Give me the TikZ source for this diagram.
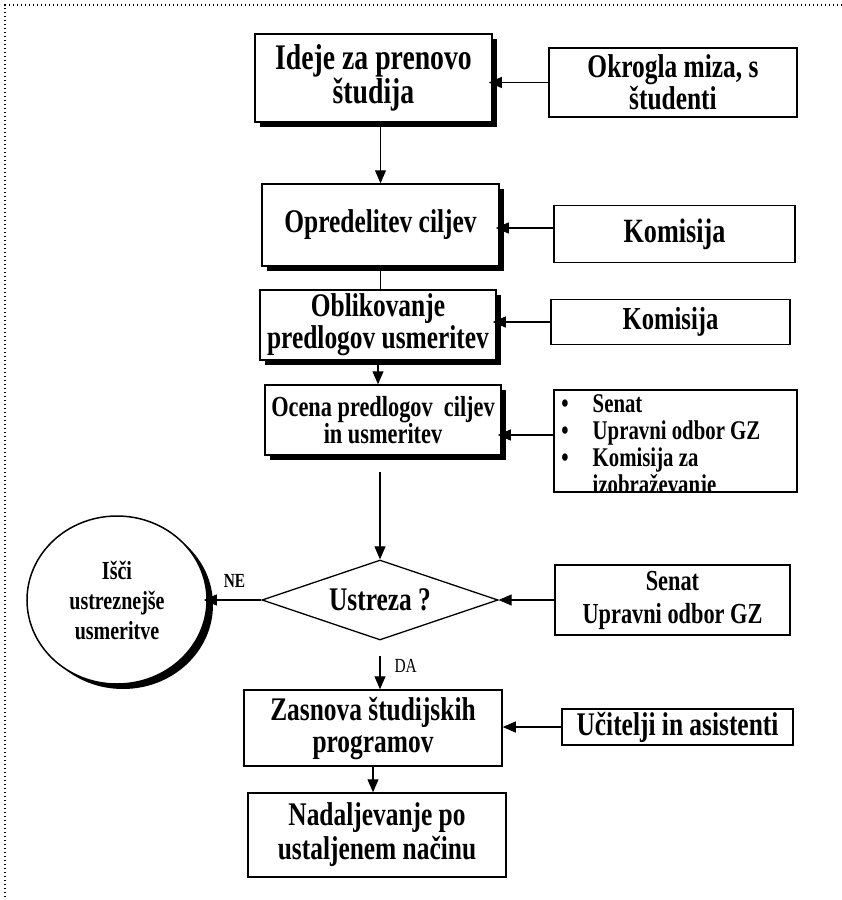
\documentclass[tikz,border=0pt]{standalone}
\usepackage{fontspec}
\setmainfont{Liberation Serif}[FakeStretch=0.77]
\usetikzlibrary{arrows.meta, shapes.geometric, shadows}
\newcommand\boxfont[2]{\bfseries\fontsize{#1}{#2}\selectfont}

\begin{document}
\begin{tikzpicture}[
  x=1pt, y=-1pt,
  box/.style={
    draw, fill=white, line width=1.5pt,
    align=center, inner sep=0pt
  },
  shbox/.style={
    box, drop shadow={shadow xshift=5pt, shadow yshift=-5pt,
      fill=black, opacity=1}
  },
  arr/.style={-{Triangle[length=13pt,width=11pt]}, line width=1.1pt}
]
  \useasboundingbox (0,0) rectangle (842,900);
  \draw[line width=1.4pt, dash pattern=on 1.4pt off 2.6pt] (842,5) -- (5,5) -- (5,900);

  \node[shbox, minimum width=237pt, minimum height=88pt, font=\boxfont{36}{32}] (ideje) at (373.5,78) {Ideje za prenovo\\študija};
  \node[box, minimum width=248pt, minimum height=69pt, font=\boxfont{33}{30}] (okrogla) at (673,82.5) {Okrogla miza, s\\študenti};
  \node[shbox, minimum width=237pt, minimum height=82pt, font=\boxfont{33}{30}] (opred) at (380.5,225) {Opredelitev ciljev};
  \node[box, minimum width=241pt, minimum height=57pt, font=\boxfont{34}{30}] (komA) at (674.5,234) {Komisija};
  \node[shbox, minimum width=236pt, minimum height=70pt, font=\boxfont{33}{32}] (oblik) at (378,325) {Oblikovanje\\predlogov usmeritev};
  \node[box, minimum width=239pt, minimum height=45pt, font=\boxfont{32}{30}] (komB) at (670.5,322) {Komisija};
  \node[shbox, minimum width=236pt, minimum height=70pt, font=\boxfont{29}{27}] (ocena) at (383,420) {Ocena predlogov\ \ ciljev\\in usmeritev};
  \node[box, minimum width=243pt, minimum height=102pt] (dlist) at (675.5,441) {};
  \begin{scope}
    \clip (dlist.north west) rectangle (dlist.south east);
    \node[anchor=north west, inner sep=0pt, font=\boxfont{27}{27}] (dtext) at ([xshift=8pt, yshift=-4pt]dlist.north west) {%
      \begin{tabular}{@{}l@{\hspace{24pt}}l@{}}
        \textbullet & Senat\\
        \textbullet & Upravni odbor GZ\\
        \textbullet & Komisija za\\
                    & izobraževanje
      \end{tabular}};
  \end{scope}

  \node[draw, diamond, aspect=3, line width=1.3pt, fill=white, minimum width=236pt, minimum height=80pt, inner sep=0pt, font=\boxfont{33}{30}] (ustreza) at (380,600) {Ustreza ?};
  \node[box, minimum width=235pt, minimum height=70pt, font=\boxfont{29}{33}] (senat) at (672.5,600) {Senat\\Upravni odbor GZ};
  \node[draw, ellipse, line width=1.5pt, fill=white, minimum width=180pt, minimum height=168pt, inner sep=0pt, align=center,
    drop shadow={shadow xshift=6pt, shadow yshift=-5pt, fill=black, opacity=1},
    font=\boxfont{26}{30}] (isci) at (117,600) {Išči\\ustreznejše\\usmeritve};

  \node[box, minimum width=258pt, minimum height=76pt, font=\boxfont{33}{32}] (zasnova) at (373,728) {Zasnova študijskih\\programov};
  \node[box, minimum width=231pt, minimum height=36pt, font=\boxfont{33}{30}] (ucitelji) at (677.5,727) {Učitelji in asistenti};
  \node[box, minimum width=258pt, minimum height=84pt, font=\boxfont{33}{34}] (nadalj) at (377,835) {Nadaljevanje po\\ustaljenem načinu};

  \draw[arr, shorten >=-4pt] (okrogla.west) -- (okrogla.west -| ideje.east);
  \draw[arr] (ideje.south -| opred.north) -- (opred.north);
  \draw[arr, shorten >=-4pt] ([yshift=6pt]komA.west) -- ([yshift=6pt]komA.west -| opred.east);
  \draw[line width=1.1pt] (opred.south) -- (opred.south |- oblik.north);
  \draw[arr, shorten >=-4pt] (komB.west) -- (komB.west -| oblik.east);
  \draw[arr] (oblik.south) -- (oblik.south |- ocena.north);
  \draw[arr, shorten >=-4pt] ([yshift=6pt]dlist.west) -- ([yshift=6pt]dlist.west -| ocena.east);
  \draw[arr] ([yshift=-16pt]ocena.south -| ustreza.north) -- (ustreza.north);
  \draw[arr] (senat.west) -- (ustreza.east);
  \draw[arr, shorten >=-4pt] (ustreza.west) -- (isci.east)
    node[midway, above=12pt, inner sep=0pt, font=\boxfont{20}{20}] (ne) {NE};
  \draw[arr] ([yshift=-15pt]ustreza.south) -- (ustreza.south |- zasnova.north)
    node[pos=0.3, right=14pt, inner sep=0pt, font=\fontsize{20}{20}\selectfont] (da) {DA};
  \draw[arr] (ucitelji.west) -- (ucitelji.west -| zasnova.east);
  \draw[arr] (zasnova.south) -- (zasnova.south |- nadalj.north);
\end{tikzpicture}
\end{document}
